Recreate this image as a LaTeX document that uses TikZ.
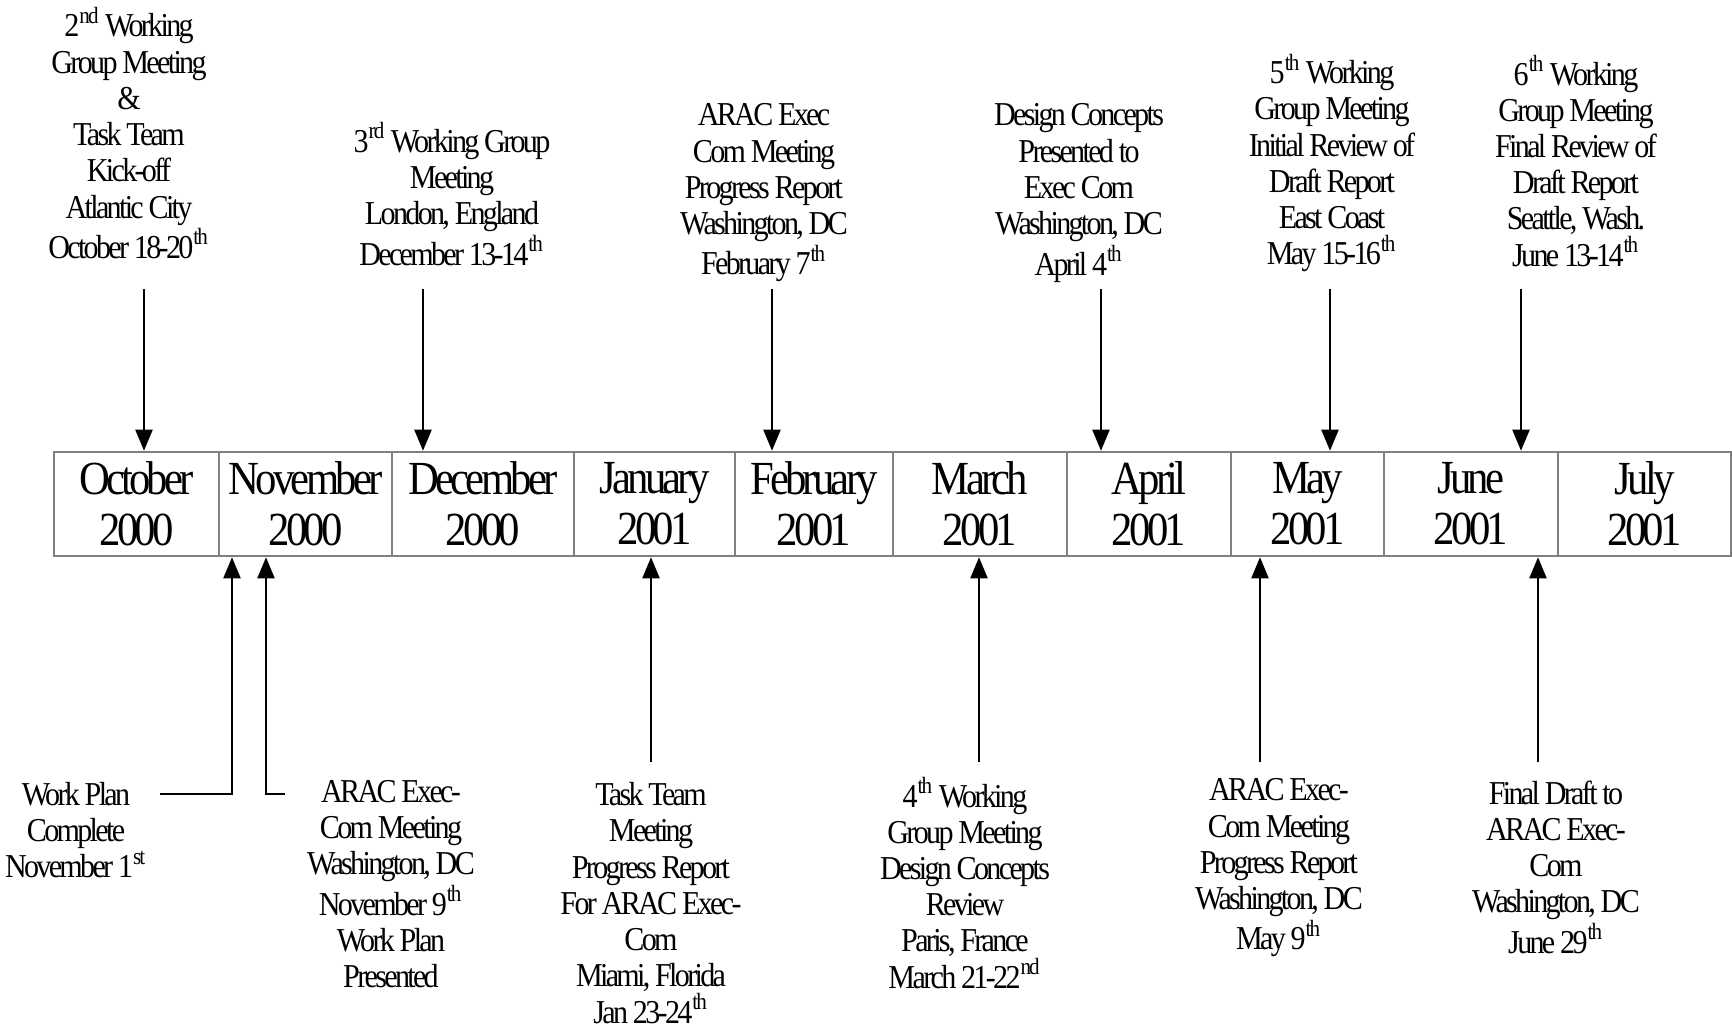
\documentclass[tikz,border=0pt]{standalone}
\usepackage{fontspec}
\setmainfont{Liberation Serif}[FakeStretch=0.9,LetterSpace=-8]
\usetikzlibrary{arrows.meta}
\begin{document}
\begin{tikzpicture}[x=0.01cm,y=-0.01cm,
		month/.style={draw=black!50,line width=0.7pt,minimum height=10.4mm,inner sep=0pt,align=center,font=\fontsize{13.5}{14.4}\selectfont},
		note/.style={align=center,inner sep=0pt,font=\fontsize{9.5}{10.3}\selectfont},
		arr/.style={-{Triangle[width=1.7mm,length=2.1mm]},line width=0.6pt}]
	\useasboundingbox (0,0) rectangle (1732,1028);
	\foreach \l/\r/\n/\m/\y in {54/219/oct/October/2000,219/392/nov/November/2000,392/574/dec/December/2000,574/735/jan/January/2001,735/893/feb/February/2001,893/1067/mar/March/2001,1067/1231/apr/April/2001,1231/1384/may/May/2001,1384/1558/jun/June/2001,1558/1731/jul/July/2001}
		\node[month,minimum width={(\r-\l)*0.1mm}] (\n) at ({(\l+\r)/2},504) {\m\\\y};
	\node[note] (oct-n) at (129,133) {2\textsuperscript{nd} Working\\Group Meeting\\\&\\Task Team\\Kick-off\\Atlantic City\\October 18-20\textsuperscript{th}};
	\node[note] (dec-n) at (452,194) {3\textsuperscript{rd} Working Group\\Meeting\\London, England\\December 13-14\textsuperscript{th}};
	\node[note] (feb-n) at (764,193) {ARAC Exec\\Com Meeting\\Progress Report\\Washington, DC\\February 7\textsuperscript{th}};
	\node[note] (apr-n) at (1079,193) {Design Concepts\\Presented to\\Exec Com\\Washington, DC\\April 4\textsuperscript{th}};
	\node[note] (may-n) at (1332,163) {5\textsuperscript{th} Working\\Group Meeting\\Initial Review of\\Draft Report\\East Coast\\May 15-16\textsuperscript{th}};
	\node[note] (jun-n) at (1576,161) {6\textsuperscript{th} Working\\Group Meeting\\Final Review of\\Draft Report\\Seattle, Wash.\\June 13-14\textsuperscript{th}};
	\node[note] (wp-n) at (76,830) {Work Plan\\Complete\\November 1\textsuperscript{st}};
	\node[note] (nov-n) at (391,884) {ARAC Exec-\\Com Meeting\\Washington, DC\\November 9\textsuperscript{th}\\Work Plan\\Presented};
	\node[note] (jan-n) at (651,903) {Task Team\\Meeting\\Progress Report\\For ARAC Exec-\\Com\\Miami, Florida\\Jan 23-24\textsuperscript{th}};
	\node[note] (mar-n) at (965,883) {4\textsuperscript{th} Working\\Group Meeting\\Design Concepts\\Review\\Paris, France\\March 21-22\textsuperscript{nd}};
	\node[note] (may-b) at (1279,868) {ARAC Exec-\\Com Meeting\\Progress Report\\Washington, DC\\May 9\textsuperscript{th}};
	\node[note] (jun-b) at (1556,867) {Final Draft to\\ARAC Exec-\\Com\\Washington, DC\\June 29\textsuperscript{th}};
	\foreach \c/\x/\m in {oct-a/144/oct,dec-a/423/dec,feb-a/772/feb,apr-a/1101/apr,may-a/1330/may,jun-a/1521/jun}{
		\coordinate (\c) at (\x,289);
		\draw[arr] (\c) -- (\c |- \m.north);
	}
	\foreach \c/\x/\m in {jan-a/651/jan,mar-a/979/mar,may-c/1260/may,jun-c/1538/jun}{
		\coordinate (\c) at (\x,762);
		\draw[arr] (\c) -- (\c |- \m.south);
	}
	\coordinate (wp-s) at (160,794);
	\coordinate (wp-c) at (232,794);
	\draw[arr] (wp-s) -- (wp-c) -- (wp-c |- nov.south);
	\coordinate (nov-s) at (285,794);
	\coordinate (nov-c) at (266,794);
	\draw[arr] (nov-s) -- (nov-c) -- (nov-c |- nov.south);
\end{tikzpicture}
\end{document}
